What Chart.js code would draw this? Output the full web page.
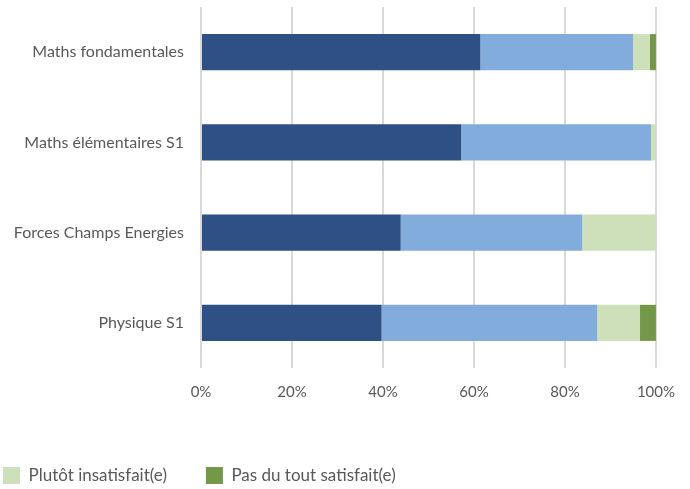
<!DOCTYPE html>
<html>
<head>
<meta charset="utf-8">
<script src="https://cdn.jsdelivr.net/npm/chart.js@4/dist/chart.umd.min.js"></script>
<style>
  html, body { margin: 0; padding: 0; background: #fff; }
  #wrap { width: 690px; height: 489px; }
</style>
</head>
<body>
<div id="wrap"><canvas id="chart"></canvas></div>
<script>
// matieres (du haut vers le bas)
const matieres = ["Maths fondamentales", "Maths élémentaires S1", "Forces Champs Energies", "Physique S1"];

// parts en %
const tresSatisfait = [61.4, 57.2, 43.9, 39.7];
const plutotSatisfait = [33.6, 41.7, 39.9, 47.4];
const plutotInsatisfait = [3.7, 1.1, 16.2, 9.4];
const pasDuToutSatisfait = [1.3, 0, 0, 3.5];

const ticksX = ["0%", "20%", "40%", "60%", "80%", "100%"];

const gris = "#595959";
const police = "Lato, 'Open Sans', sans-serif";

const ctx = document.getElementById("chart").getContext("2d");

new Chart(ctx, {
    type: "bar",
    data: {
        labels: matieres,
        datasets: [{
            label: "Très satisfait(e)",
            data: tresSatisfait,
            backgroundColor: "#2E5085"
        },
        {
            label: "Plutôt satisfait(e)",
            data: plutotSatisfait,
            backgroundColor: "#82ACDC"
        },
        {
            label: "Plutôt insatisfait(e)",
            data: plutotInsatisfait,
            backgroundColor: "#CDE0B9"
        },
        {
            label: "Pas du tout satisfait(e)",
            data: pasDuToutSatisfait,
            backgroundColor: "#74984A"
        }]
    },
    options: {
        indexAxis: "y",
        responsive: true,
        maintainAspectRatio: false,
        animation: false,
        layout: {
            padding: { top: 7, right: 33, left: -36, bottom: -5 }
        },
        datasets: {
            bar: {
                categoryPercentage: 1,
                barPercentage: 0.4,
                borderWidth: 0
            }
        },
        plugins: {
            tooltip: { enabled: false },
            legend: {
                position: "bottom",
                align: "start",
                labels: {
                    // seules les deux dernieres entrees sont visibles
                    filter: (item) => item.datasetIndex >= 2,
                    boxWidth: 17,
                    boxHeight: 17,
                    padding: 39,
                    color: gris,
                    font: { family: police, size: 17 }
                }
            }
        },
        scales: {
            x: {
                stacked: true,
                min: 0,
                max: 100,
                border: { display: false },
                grid: {
                    color: "#D9D9D9",
                    lineWidth: 2,
                    drawTicks: false
                },
                ticks: {
                    stepSize: 20,
                    padding: 15,
                    color: gris,
                    font: { family: police, size: 15 },
                    callback: (v, i) => ticksX[i]
                },
                afterFit: (scale) => { scale.height = 60; }
            },
            y: {
                stacked: true,
                border: { display: false },
                grid: { display: false },
                ticks: {
                    padding: 9,
                    color: gris,
                    font: { family: police, size: 16 }
                },
                afterFit: (scale) => {
                    scale.width = 237;
                    scale.paddingTop = 0;
                    scale.paddingBottom = 0;
                }
            }
        }
    }
});
</script>
</body>
</html>
